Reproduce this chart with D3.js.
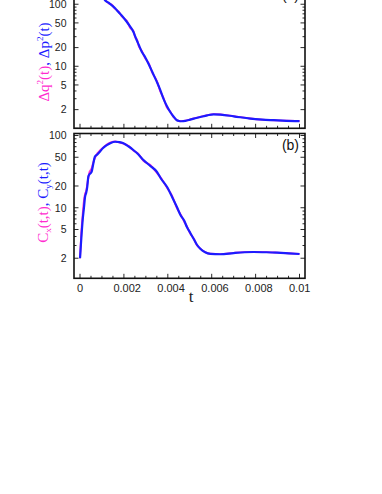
<!DOCTYPE html>
<html>
<head>
<meta charset="utf-8">
<script src="https://cdn.jsdelivr.net/npm/d3@7"></script>
<style>
html,body{margin:0;padding:0;background:#fff;}
svg{display:block;}
</style>
</head>
<body>
<svg id="chart" width="382" height="494"></svg>
<script>
// ---------- data ----------
// panel (a): Δq²(t) (magenta) and Δp²(t) (blue)
const tA = [0, 0.0003, 0.0006, 0.0009, 0.00114, 0.0013, 0.00145, 0.0016, 0.00175, 0.0019, 0.00213, 0.00228, 0.00243, 0.00252, 0.00259, 0.00268, 0.00282, 0.00297, 0.00312, 0.0033, 0.0035, 0.00365, 0.0038, 0.00395, 0.00411, 0.00426, 0.00441, 0.00452, 0.00464, 0.0048, 0.00502, 0.00525, 0.00548, 0.0058, 0.00609, 0.0064, 0.007, 0.00776, 0.0083, 0.00883, 0.0094, 0.01];
const dp2 = [1500, 700, 350, 180, 116, 106, 96, 86, 75, 66, 52, 44, 36, 30, 26, 22, 17, 14, 11, 8.0, 5.6, 4.2, 3.0, 2.3, 1.83, 1.55, 1.35, 1.31, 1.30, 1.32, 1.38, 1.45, 1.52, 1.62, 1.68, 1.66, 1.56, 1.43, 1.38, 1.35, 1.32, 1.31];
const dq2 = [1500, 700, 350, 185, 118, 104, 98, 84, 77, 64, 54, 42, 37, 29, 27, 21, 17.5, 13.5, 11.3, 7.8, 5.8, 4.0, 3.1, 2.2, 1.86, 1.52, 1.36, 1.30, 1.31, 1.33, 1.39, 1.46, 1.53, 1.63, 1.69, 1.67, 1.57, 1.44, 1.38, 1.35, 1.32, 1.31];

// panel (b): Cx(t,t) (magenta) and Cy(t,t) (blue)
const tB = [0, 0.00006, 0.000122, 0.00018, 0.00023, 0.00028, 0.00033, 0.00038, 0.00043, 0.00048, 0.00053, 0.0006, 0.00068, 0.0008, 0.00091, 0.00105, 0.00122, 0.0014, 0.0016, 0.0018, 0.00198, 0.0022, 0.00243, 0.00265, 0.00289, 0.0032, 0.0035, 0.0037, 0.00396, 0.0042, 0.00441, 0.00457, 0.00475, 0.00487, 0.00502, 0.00518, 0.00532, 0.00548, 0.0057, 0.00594, 0.00639, 0.007, 0.0075, 0.00791, 0.0085, 0.00898, 0.0095, 0.01];
const cy = [2.0, 3.8, 6.8, 10, 14.2, 16, 19.5, 27, 29, 30, 31.5, 40, 51, 55, 60, 67, 73.6, 79, 82, 81, 78, 71, 63, 55, 45.7, 38, 31.5, 25, 19.5, 14, 10.3, 8.0, 6.6, 5.4, 4.5, 3.7, 3.1, 2.7, 2.42, 2.3, 2.27, 2.36, 2.42, 2.44, 2.42, 2.39, 2.34, 2.29];
const cx = [2.0, 4.5, 8.0, 12.5, 15.5, 17, 21, 26, 31, 33, 35, 42, 49, 57, 62, 68, 75, 80, 82.5, 80, 77, 72, 62, 56, 44.5, 39, 30.5, 25.5, 19, 14.5, 10, 8.2, 6.4, 5.5, 4.4, 3.75, 3.05, 2.72, 2.43, 2.31, 2.28, 2.37, 2.43, 2.45, 2.43, 2.39, 2.34, 2.3];

const xTicks = [0, 0.002, 0.004, 0.006, 0.008, 0.01];
const xTickLabels = ["0", "0.002", "0.004", "0.006", "0.008", "0.01"];
const yTicks = [2, 5, 10, 20, 50, 100];
const yTickLabels = ["2", "5", "10", "20", "50", "100"];

// ---------- layout ----------
const MAG = "#ff2ccf", BLU = "#1c1cff";
const svg = d3.select("#chart");
const x = d3.scaleLinear().domain([-0.000274, 0.01025]).range([74, 305]);

const panels = [
  {id: "a", y: d3.scaleLog().domain([1, 220]).range([128.3, -17]), s1: dq2, s2: dp2, t: tA,
   title: [["Δq", MAG], ["2", MAG, "sup"], ["(t)", MAG], [", Δp", BLU], ["2", BLU, "sup"], ["(t)", BLU]], tx: 49, ty: 62, label: "(a)", xlabels: false},
  {id: "b", y: d3.scaleLog().domain([1.055, 106.6]).range([278.3, 133.5]), s1: cx, s2: cy, t: tB,
   title: [["C", MAG], ["x", MAG, "sub"], ["(t,t)", MAG], [", C", BLU], ["y", BLU, "sub"], ["(t,t)", BLU]], tx: 47.5, ty: 202.5, label: "(b)", xlabels: true}
];

panels.forEach(p => {
  const [x0, x1] = x.range();
  const [yb, yt] = p.y.range();
  const g = svg.append("g");

  svg.append("clipPath").attr("id", "clip" + p.id)
    .append("rect").attr("x", x0).attr("y", yt).attr("width", x1 - x0).attr("height", yb - yt);

  const line = arr => d3.line().x((d, i) => x(p.t[i])).y(d => p.y(d)).curve(d3.curveMonotoneX)(arr);
  const cg = g.append("g").attr("clip-path", `url(#clip${p.id})`);
  cg.append("path").attr("d", line(p.s1)).attr("fill", "none").attr("stroke", MAG).attr("stroke-width", 1.9);
  cg.append("path").attr("d", line(p.s2)).attr("fill", "none").attr("stroke", BLU).attr("stroke-width", 2.2);

  const [d0, d1] = p.y.domain();
  const yAll = [];
  for (let e = 0; e <= 3; e++) for (let m = 1; m <= 9; m++) {
    const v = m * Math.pow(10, e);
    if (v >= d0 && v <= d1) yAll.push(v);
  }
  yAll.forEach(v => {
    const major = yTicks.includes(v) || v === 1 || v === 200;
    const L = major ? 4.5 : 2.5;
    const yy = p.y(v);
    g.append("line").attr("x1", x0).attr("x2", x0 + L).attr("y1", yy).attr("y2", yy).attr("stroke", "#111").attr("stroke-width", 0.9);
    g.append("line").attr("x1", x1).attr("x2", x1 - L).attr("y1", yy).attr("y2", yy).attr("stroke", "#111").attr("stroke-width", 0.9);
  });
  yTicks.forEach((v, i) => {
    if (v < d0 || v > d1) return;
    g.append("text").attr("x", 66.5).attr("y", p.y(v) + 3.8).attr("text-anchor", "end")
      .attr("font-family", "Liberation Sans, Arial, sans-serif").attr("font-size", 10.5).attr("fill", "#222")
      .text(yTickLabels[i]);
  });

  for (let k = 0; k <= 20; k++) {
    const v = k * 0.0005;
    const major = k % 4 === 0;
    const L = major ? 4.5 : 2.5;
    const xx = x(v);
    g.append("line").attr("x1", xx).attr("x2", xx).attr("y1", yb).attr("y2", yb - L).attr("stroke", "#111").attr("stroke-width", 0.9);
    g.append("line").attr("x1", xx).attr("x2", xx).attr("y1", yt).attr("y2", yt + L).attr("stroke", "#111").attr("stroke-width", 0.9);
  }
  if (p.xlabels) {
    xTicks.forEach((v, i) => {
      const t = g.append("text").attr("y", 291.7)
        .attr("font-family", "Liberation Sans, Arial, sans-serif").attr("font-size", 11).attr("fill", "#222")
        .text(xTickLabels[i]);
      if (v === 0) t.attr("x", x(v)).attr("text-anchor", "middle");
      else t.attr("x", x(v) - 10.5).attr("text-anchor", "start");
    });
  }

  g.append("rect").attr("x", x0).attr("y", yt).attr("width", x1 - x0).attr("height", yb - yt)
    .attr("fill", "none").attr("stroke", "#111").attr("stroke-width", 1.6);

  g.append("text").attr("x", 299).attr("y", yt + 16.5).attr("text-anchor", "end")
    .attr("font-family", "Liberation Sans, Arial, sans-serif").attr("font-size", 14).attr("fill", "#111")
    .text(p.label);

  const tt = svg.append("text").attr("transform", `translate(${p.tx},${p.ty}) rotate(-90)`)
    .attr("text-anchor", "middle").attr("font-family", "Liberation Serif, Times New Roman, serif").attr("font-size", 15);
  p.title.forEach(([s, c, kind], i) => {
    const prev = i > 0 ? p.title[i - 1][2] : null;
    let dy = 0;
    if (kind === "sup") dy = -6; else if (kind === "sub") dy = 3.5;
    if (prev === "sup") dy += 6; else if (prev === "sub") dy -= 3.5;
    const ts = tt.append("tspan").attr("fill", c).attr("dy", dy).text(s);
    if (kind) ts.attr("font-size", 9);
  });
});

svg.append("text").attr("x", 191).attr("y", 301.5).attr("text-anchor", "middle")
  .attr("font-family", "Liberation Serif, Times New Roman, serif").attr("font-size", 17).attr("fill", "#222")
  .text("t");
</script>
</body>
</html>
